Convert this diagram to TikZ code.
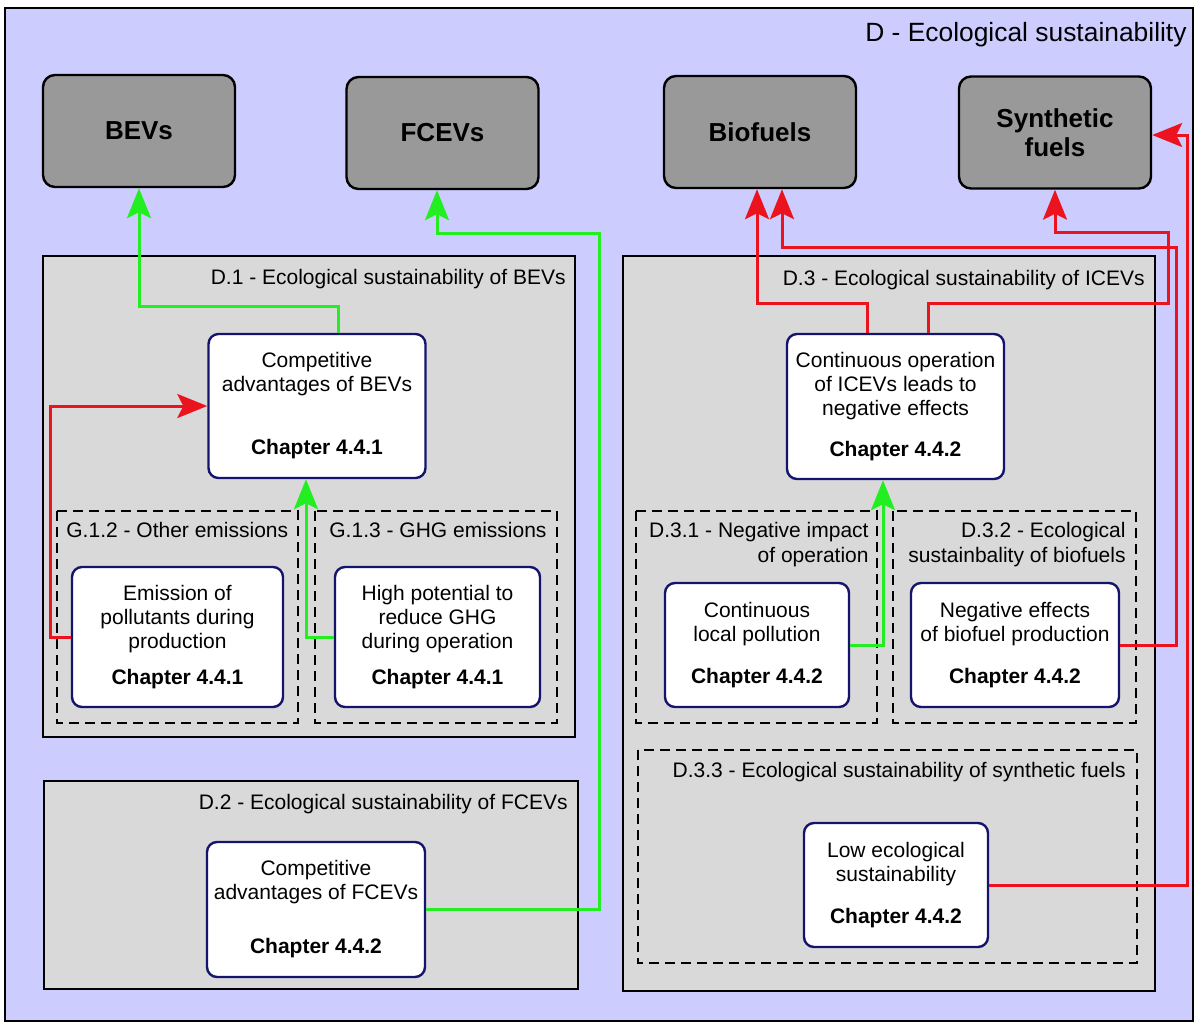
\documentclass[tikz,border=0pt]{standalone}
\usepackage{fontspec}
\setmainfont{Liberation Sans}
\usetikzlibrary{arrows.meta}
\definecolor{lavender}{RGB}{204,204,255}
\definecolor{panelgray}{RGB}{217,217,217}
\definecolor{boxgray}{RGB}{153,153,153}
\definecolor{navyline}{RGB}{20,20,110}
\definecolor{arrowgreen}{RGB}{34,238,34}
\definecolor{arrowred}{RGB}{235,20,30}
\begin{document}
\begin{tikzpicture}[x=0.5pt,y=-0.5pt,
    panel/.style={draw=black,line width=1.4pt,fill=panelgray},
    subpanel/.style={draw=black,line width=1.1pt,dash pattern=on 5pt off 3pt},
    target/.style={draw=black,line width=1.2pt,fill=boxgray,rounded corners=6pt,minimum width=96pt,minimum height=56pt,inner sep=0pt,align=center,font=\fontsize{13}{14.5}\selectfont\bfseries},
    item/.style={draw=navyline,line width=1.2pt,fill=white,rounded corners=5pt,inner sep=0pt,align=center,font=\fontsize{10.5}{12}\selectfont},
    paneltitle/.style={inner sep=0pt,font=\fontsize{10.5}{12.5}\selectfont},
    garrow/.style={draw=arrowgreen,line width=1.5pt,-{Stealth[length=15pt,width=12pt,inset=3pt]}},
    rarrow/.style={draw=arrowred,line width=1.5pt,-{Stealth[length=15pt,width=12pt,inset=3pt]}}]
    \useasboundingbox (0,0) rectangle (1196,1025);
    \draw[fill=lavender,line width=1.1pt] (5,8) rectangle (1193,1021);
    \node[anchor=base east,inner sep=0pt,font=\fontsize{13.2}{15}\selectfont] (title) at (1187,41) {D - Ecological sustainability};

    \draw[panel] (43,256) rectangle (575,737);
    \draw[panel] (44,781) rectangle (578,989);
    \draw[panel] (623,256) rectangle (1155,991);
    \draw[subpanel] (57,511) rectangle (298,723);
    \draw[subpanel] (315,511) rectangle (557,723);
    \draw[subpanel] (636,511) rectangle (877,723);
    \draw[subpanel] (893,511) rectangle (1136,723);
    \draw[subpanel] (638,750) rectangle (1137,963);

    \node[paneltitle,anchor=base east] (d1) at (566,284) {D.1 - Ecological sustainability of BEVs};
    \node[paneltitle,anchor=base east] (d2) at (568,809) {D.2 - Ecological sustainability of FCEVs};
    \node[paneltitle,anchor=base east] (d3) at (1145,285) {D.3 - Ecological sustainability of ICEVs};
    \node[paneltitle,anchor=base west] (g12) at (66,537) {G.1.2 - Other emissions};
    \node[paneltitle,anchor=base west] (g13) at (329,537) {G.1.3 - GHG emissions};
    \node[paneltitle,anchor=north east,align=right] (d31) at (869,522) {D.3.1 - Negative impact\\of operation};
    \node[paneltitle,anchor=north east,align=right] (d32) at (1126,522) {D.3.2 - Ecological\\sustainbality of biofuels};
    \node[paneltitle,anchor=base east] (d33) at (1126,777) {D.3.3 - Ecological sustainability of synthetic fuels};

    \node[target] (bev) at (139,131) {BEVs};
    \node[target] (fcev) at (442.5,133) {FCEVs};
    \node[target] (bio) at (760,132) {Biofuels};
    \node[target] (synth) at (1055,132.5) {Synthetic\\fuels};

    \node[item,minimum width=108.5pt,minimum height=72pt] (advbev) at (317,406) {Competitive\\advantages of BEVs\\[19.5pt]\textbf{Chapter 4.4.1}};
    \node[item,minimum width=105.5pt,minimum height=70pt] (pollut) at (177.5,637) {Emission of\\pollutants during\\production\\[6pt]\textbf{Chapter 4.4.1}};
    \node[item,minimum width=102.5pt,minimum height=70pt] (ghg) at (437.5,637) {High potential to\\reduce GHG\\during operation\\[6pt]\textbf{Chapter 4.4.1}};
    \node[item,minimum width=109pt,minimum height=67.5pt] (advfcev) at (316,909.5) {Competitive\\advantages of FCEVs\\[15pt]\textbf{Chapter 4.4.2}};
    \node[item,minimum width=108.5pt,minimum height=72.5pt] (iceop) at (895.5,406.5) {Continuous operation\\of ICEVs leads to\\negative effects\\[8.5pt]\textbf{Chapter 4.4.2}};
    \node[item,minimum width=92pt,minimum height=62pt] (local) at (757,645) {Continuous\\local pollution\\[9pt]\textbf{Chapter 4.4.2}};
    \node[item,minimum width=104pt,minimum height=62pt] (biofx) at (1015,645) {Negative effects\\of biofuel production\\[9pt]\textbf{Chapter 4.4.2}};
    \node[item,minimum width=92pt,minimum height=62pt] (loweco) at (896,885) {Low ecological\\sustainability\\[9pt]\textbf{Chapter 4.4.2}};

    \draw[garrow] (advbev.north -| 338,0) |- (bev.south |- 0,306) -- (bev.south);
    \draw[rarrow] (pollut.west) -| (50,406) -- (advbev.west);
    \draw[garrow] (ghg.west) -| (advbev.south -| 306,0);
    \draw[garrow] (advfcev.east) -| (599,233) -| (fcev.south -| 437,0);
    \draw[garrow] (local.east) -| (iceop.south -| 883,0);
    \draw[rarrow] (iceop.north -| 867,0) |- (757,303) -- (bio.south -| 757,0);
    \draw[rarrow] (iceop.north -| 928,0) |- (1168,303) |- (1055,232) -- (synth.south);
    \draw[rarrow] (biofx.east) -| (1176,247) -| (bio.south -| 782,0);
    \draw[rarrow] (loweco.east) -| (1187,135) -- (synth.east |- 0,135);
\end{tikzpicture}
\end{document}
